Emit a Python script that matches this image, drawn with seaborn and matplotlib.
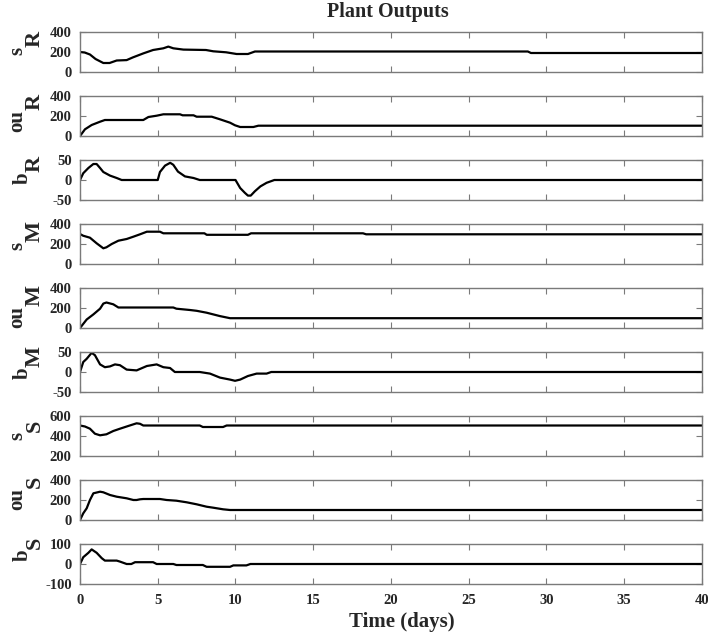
import matplotlib
matplotlib.use("Agg")
import matplotlib.pyplot as plt
import numpy as np
import pandas as pd
import seaborn as sns

# ---- data: time (days) and plant output values per channel ----
t_sR = [0, 0.3, 0.64, 1.0, 1.5, 1.9, 2.36, 3.0, 3.4, 4.07, 4.7, 5.36, 5.68, 6.0, 6.65, 8.1, 8.57, 9.4,
        10.07, 10.8, 11.25, 28.8, 29.0, 40]
v_sR = [200, 195, 175, 130, 90, 90, 115, 119, 146, 186, 220, 237, 254, 237, 224, 220, 207, 197,
        180, 180, 205, 205, 190, 190]

t_ouR = [0, 0.32, 0.75, 1.29, 1.6, 4.07, 4.4, 4.93, 5.36, 6.43, 6.6, 7.3, 7.5, 8.47, 9.0, 9.65, 9.97,
         10.3, 11.15, 11.47, 40]
v_ouR = [0, 67, 110, 143, 160, 160, 190, 203, 217, 217, 207, 207, 193, 193, 167, 133, 107,
         90, 90, 103, 103]

t_bR = [0, 0.21, 0.54, 0.86, 1.07, 1.29, 1.5, 1.93, 2.36, 2.68, 5.0, 5.14, 5.47, 5.8, 6.0, 6.3, 6.75,
        7.3, 7.7, 10.0, 10.3, 10.6, 10.8, 10.98, 11.25, 11.6, 12.0, 12.5, 40]
v_bR = [0, 17, 30, 40, 40, 30, 20, 11, 5, 0, 0, 20, 36, 43, 38, 21, 9,
        5, 0, 0, -20, -32, -39, -39, -28, -16, -7, 0, 0]

t_sM = [0, 0.2, 0.64, 1.07, 1.5, 1.7, 2.04, 2.47, 3.0, 3.43, 3.86, 4.3, 5.14, 5.36, 8.0, 8.15, 10.8,
        11.0, 18.2, 18.4, 40]
v_sM = [300, 283, 263, 207, 157, 167, 200, 233, 250, 273, 297, 323, 323, 307, 307, 292, 292,
        307, 307, 297, 297]

t_ouM = [0, 0.43, 0.86, 1.29, 1.5, 1.7, 2.14, 2.47, 6.0, 6.2, 7.07, 7.5, 8.14, 9.0, 9.65, 40]
v_ouM = [0, 85, 136, 193, 244, 255, 237, 205, 205, 193, 180, 172, 153, 119, 98, 98]

t_bM = [0, 0.21, 0.43, 0.75, 0.96, 1.29, 1.6, 1.93, 2.25, 2.57, 3.0, 3.64, 4.3, 4.93, 5.36, 5.79,
        6.1, 7.7, 8.36, 9.0, 9.65, 9.97, 10.3, 10.8, 11.36, 12.0, 12.3, 40]
v_bM = [0, 25, 33, 48, 42, 19, 12, 14, 19, 17, 6, 4, 15, 19, 12, 10,
        0, 0, -4, -14, -19, -22, -19, -10, -4, -4, 0, 0]

t_sS = [0, 0.32, 0.64, 0.96, 1.29, 1.7, 2.14, 2.57, 3.1, 3.3, 3.64, 3.86, 4.07, 7.7, 7.9, 9.2,
        9.43, 40]
v_sS = [505, 495, 473, 423, 407, 417, 450, 473, 500, 510, 527, 522, 505, 505, 490, 490,
        505, 505]

t_ouS = [0, 0.21, 0.43, 0.64, 0.86, 1.29, 1.5, 1.93, 2.36, 3.0, 3.43, 3.64, 3.86, 4.07, 5.14, 5.57,
         6.2, 6.86, 7.5, 8.14, 8.57, 9.2, 9.65, 40]
v_ouS = [0, 67, 117, 200, 267, 283, 277, 250, 233, 217, 200, 200, 207, 210, 210, 200,
         193, 177, 157, 133, 123, 107, 100, 100]

t_bS = [0, 0.21, 0.54, 0.75, 1.07, 1.4, 1.6, 2.36, 2.57, 3.0, 3.3, 3.54, 4.7, 4.93, 6.0, 6.2,
        7.9, 8.14, 9.65, 9.86, 10.7, 10.96, 40]
v_bS = [0, 34, 56, 73, 56, 29, 17, 17, 12, 0, 0, 9, 9, 0, 0, -5,
        -5, -14, -14, -7, -7, 0, 0]

names = ["s", "ou", "b", "s", "ou", "b", "s", "ou", "b"]
subs = ["R", "R", "R", "M", "M", "M", "S", "S", "S"]
series = [(t_sR, v_sR), (t_ouR, v_ouR), (t_bR, v_bR),
          (t_sM, v_sM), (t_ouM, v_ouM), (t_bM, v_bM),
          (t_sS, v_sS), (t_ouS, v_ouS), (t_bS, v_bS)]
ylims = [(0, 400), (0, 400), (-50, 50), (0, 400), (0, 400), (-50, 50),
         (200, 600), (0, 400), (-100, 100)]
yticks = [[0, 200, 400], [0, 200, 400], [-50, 0, 50], [0, 200, 400], [0, 200, 400],
          [-50, 0, 50], [200, 400, 600], [0, 200, 400], [-100, 0, 100]]
xticks = [0, 5, 10, 15, 20, 25, 30, 35, 40]

sns.set_style("ticks")
plt.rcParams["font.family"] = ["Liberation Serif", "DejaVu Serif"]
plt.rcParams["font.weight"] = "bold"

W, H = 708, 643
fig = plt.figure(figsize=(W / 100, H / 100), dpi=100)

edge = "#7a7a7a"
left_px, right_px = 80, 702
label_join = [47, 110, 172, 242, 306, 367, 432, 488, 549]
main_x = {"s": 22, "ou": 22, "b": 28}

for i, ((t, v), name, sub) in enumerate(zip(series, names, subs)):
    top_px = 32 + 64 * i
    ax = fig.add_axes([left_px / W, 1 - (top_px + 40) / H, (right_px - left_px) / W, 40 / H])
    df = pd.DataFrame({"t": t, "v": v})
    sns.lineplot(data=df, x="t", y="v", ax=ax, color="black", linewidth=1.6,
                 legend=False, estimator=None, sort=False)
    ax.set_xlim(0, 40)
    ax.set_ylim(*ylims[i])
    ax.set_yticks(yticks[i])
    ax.set_yticklabels([str(y) for y in yticks[i]], fontsize=10.5, fontweight="bold")
    ax.set_xticks(xticks)
    if i == 8:
        ax.set_xticklabels([str(x) for x in xticks], fontsize=10.5, fontweight="bold")
    else:
        ax.set_xticklabels([])
    ax.set_xlabel("")
    ax.set_ylabel("")
    ax.tick_params(direction="in", length=4, width=0.8, color=edge, top=True, right=True,
                   pad=6)
    ax.tick_params(axis="x", pad=7)
    for sp in ax.spines.values():
        sp.set_visible(True)
        sp.set_color(edge)
        sp.set_linewidth(1.0)

    # rotated channel label: name, then larger subscript letter
    jy = 1 - label_join[i] / H
    fig.text(main_x[name] / W, jy, name, rotation=90, rotation_mode="anchor",
             ha="right", va="baseline", fontsize=15, fontweight="bold")
    fig.text(40 / W, jy, sub, rotation=90, rotation_mode="anchor",
             ha="left", va="baseline", fontsize=16, fontweight="bold")

fig.text(388 / W, 1 - 12 / H, "Plant Outputs", ha="center", va="center",
         fontsize=14.5, fontweight="bold")
fig.text(402 / W, 1 - 622 / H, "Time (days)", ha="center", va="center",
         fontsize=15, fontweight="bold")

fig.savefig("out.png", dpi=100, facecolor="white")
